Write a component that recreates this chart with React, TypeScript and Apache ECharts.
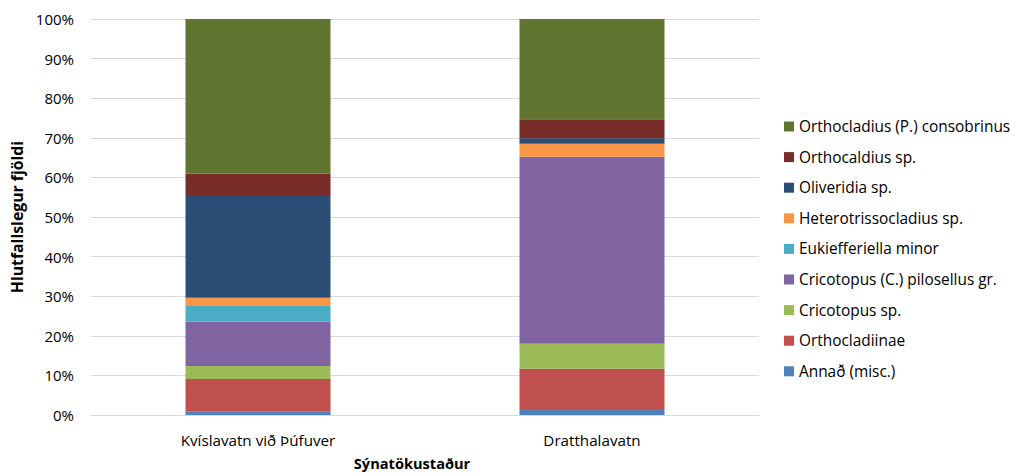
import React, { useEffect, useRef } from "react";
import * as echarts from "echarts";

const sites = ["Kvíslavatn við Þúfuver", "Dratthalavatn"];

// Relative abundance (%) per taxon, bottom of stack first
const annad = [0.8, 1.5];
const orthocladiinae = [8.3, 10.2];
const cricotopusSp = [3.3, 6.3];
const cricotopusPilosellus = [11.2, 47.2];
const eukiefferiella = [4.1, 0];
const heterotrissocladius = [1.9, 3.3];
const oliveridia = [25.7, 1.4];
const orthocaldius = [5.6, 4.8];
const orthocladiusConsobrinus = [39.1, 25.3];

const seriesDefs = [
  { name: "Annað (misc.)", data: annad, color: "#4F81BD" },
  { name: "Orthocladiinae", data: orthocladiinae, color: "#C0504D" },
  { name: "Cricotopus sp.", data: cricotopusSp, color: "#9BBB59" },
  { name: "Cricotopus (C.) pilosellus gr.", data: cricotopusPilosellus, color: "#8064A2" },
  { name: "Eukiefferiella minor", data: eukiefferiella, color: "#4BACC6" },
  { name: "Heterotrissocladius sp.", data: heterotrissocladius, color: "#F79646" },
  { name: "Oliveridia sp.", data: oliveridia, color: "#2C4D75" },
  { name: "Orthocaldius sp.", data: orthocaldius, color: "#772C2A" },
  { name: "Orthocladius (P.) consobrinus", data: orthocladiusConsobrinus, color: "#5F7530" },
];

const FONT = "'Open Sans', sans-serif";

export default function App() {
  const ref = useRef<HTMLDivElement>(null);

  useEffect(() => {
    if (!ref.current) return;
    const chart = echarts.init(ref.current, null, { renderer: "svg" });
    chart.setOption({
      animation: false,
      textStyle: { fontFamily: FONT },
      grid: {
        left: 91,
        right: 255,
        top: 19,
        bottom: 59,
        containLabel: false,
        outerBoundsMode: "none",
      },
      legend: {
        orient: "vertical",
        left: 784,
        top: 118,
        padding: 0,
        itemWidth: 10,
        itemHeight: 10,
        itemGap: 13.6,
        icon: "rect",
        data: seriesDefs.map((s) => s.name).reverse(),
        textStyle: { fontSize: 15.4, color: "#000", fontFamily: FONT, lineHeight: 17 },
      },
      xAxis: {
        type: "category",
        data: sites,
        name: "Sýnatökustaður",
        nameLocation: "middle",
        nameGap: 40,
        nameTextStyle: {
          fontSize: 14.6,
          fontWeight: "bold",
          color: "#000",
          fontFamily: FONT,
          padding: [0, 26, 0, 0],
        },
        axisLine: { lineStyle: { color: "#D9D9D9" } },
        axisTick: { show: false },
        axisLabel: { fontSize: 15.2, color: "#000", margin: 17, fontFamily: FONT },
      },
      yAxis: {
        type: "value",
        min: 0,
        max: 100,
        interval: 10,
        name: "Hlutfallslegur fjöldi",
        nameLocation: "middle",
        nameGap: 66,
        nameTextStyle: { fontSize: 15.8, fontWeight: "bold", color: "#000", fontFamily: FONT },
        axisLabel: { formatter: "{value}%", fontSize: 15, color: "#000", margin: 17, fontFamily: FONT },
        splitLine: { lineStyle: { color: "#D9D9D9" } },
        axisLine: { show: false },
        axisTick: { show: false },
      },
      series: seriesDefs.map((s) => ({
        name: s.name,
        type: "bar",
        stack: "total",
        barWidth: 145,
        data: s.data,
        itemStyle: { color: s.color },
      })),
    });
    return () => chart.dispose();
  }, []);

  return (
    <div
      ref={ref}
      style={{ width: 1014, height: 474, position: "absolute", left: 0, top: 0, overflow: "hidden" }}
    />
  );
}
